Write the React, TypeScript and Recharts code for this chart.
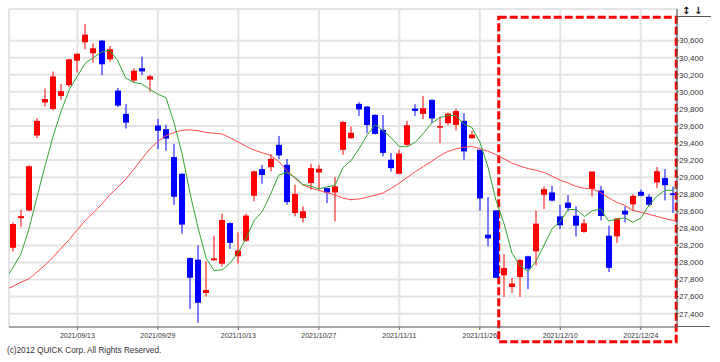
import React from 'react';
import { ComposedChart, Bar, Line, XAxis, YAxis, CartesianGrid, ReferenceArea } from 'recharts';

// Trading days shown (2021/09/01 .. 2021/12/30)
const dates = [
  '2021/09/01','2021/09/02','2021/09/03','2021/09/06','2021/09/07','2021/09/08','2021/09/09','2021/09/10',
  '2021/09/13','2021/09/14','2021/09/15','2021/09/16','2021/09/17','2021/09/21','2021/09/22','2021/09/24',
  '2021/09/27','2021/09/28','2021/09/29','2021/09/30','2021/10/01','2021/10/04','2021/10/05','2021/10/06',
  '2021/10/07','2021/10/08','2021/10/11','2021/10/12','2021/10/13','2021/10/14','2021/10/15','2021/10/18',
  '2021/10/19','2021/10/20','2021/10/21','2021/10/22','2021/10/25','2021/10/26','2021/10/27','2021/10/28',
  '2021/10/29','2021/11/01','2021/11/02','2021/11/04','2021/11/05','2021/11/08','2021/11/09','2021/11/10',
  '2021/11/11','2021/11/12','2021/11/15','2021/11/16','2021/11/17','2021/11/18','2021/11/19','2021/11/22',
  '2021/11/24','2021/11/25','2021/11/26','2021/11/29','2021/11/30','2021/12/01','2021/12/02','2021/12/03',
  '2021/12/06','2021/12/07','2021/12/08','2021/12/09','2021/12/10','2021/12/13','2021/12/14','2021/12/15',
  '2021/12/16','2021/12/17','2021/12/20','2021/12/21','2021/12/22','2021/12/23','2021/12/24','2021/12/27',
  '2021/12/28','2021/12/29','2021/12/30',
];

const opens = [
  28173,28520,28610,29488,29875,29800,29952,30078,30366,30581,30452,30600,30382,30015,29742,30132,
  30277,30144,29605,29562,29235,29040,28052,28033,27643,28026,27986,28462,28073,28255,28782,29094,
  29118,29379,29145,28580,28521,28931,29055,28872,28821,29321,29457,29859,29828,29730,29555,29204,
  29040,29379,29805,29742,29906,29594,29633,29613,29660,29457,29321,28326,28610,27850,27713,27830,
  28073,28131,28794,28821,28540,28702,28548,28357,28864,28844,28314,28306,28607,28681,28829,28770,
  28938,28989,28810,
];
const highs = [
  28470,28618,29140,29691,30038,30238,30093,30381,30447,30795,30569,30608,30538,30046,29859,30277,
  30413,30198,29680,29613,29387,29045,28060,28201,28014,28315,28572,28470,28353,28572,29075,29145,
  29270,29484,29212,28911,28657,29157,29145,28880,29001,29660,29594,29879,29830,29735,29730,29282,
  29321,29660,29855,29952,29910,29711,29758,29800,29750,29543,29325,28767,28615,28100,27818,28040,
  28080,28607,28891,28899,28677,28790,28657,28509,29070,28899,28431,28521,28657,28798,28856,28798,
  29118,29094,28890,
];
const lows = [
  28130,28415,28600,29457,29828,29781,29906,30054,30226,30499,30343,30195,30355,29820,29570,30109,
  30198,30003,29329,29309,28673,28337,27455,27292,27604,28020,27955,28158,27987,28240,28716,28923,
  29067,29212,28677,28541,28470,28853,28853,28696,28482,29262,29450,29719,29516,29500,29243,29067,
  29035,29360,29719,29680,29633,29399,29613,29547,29204,29450,28607,28190,27818,27596,27643,27596,
  27689,27963,28626,28715,28392,28599,28306,28350,28774,28493,27889,28228,28470,28603,28775,28657,
  28872,28727,28580,
];
const closes = [
  28451,28543,29128,29660,29916,30181,30008,30381,30447,30670,30511,30323,30500,29839,29639,30248,
  30240,30183,29544,29452,28771,28444,27822,27528,27678,28048,28498,28230,28140,28550,29068,29025,
  29215,29255,28708,28804,28600,29106,29098,28820,28892,29647,29520,29794,29611,29507,29285,29106,
  29277,29609,29776,29808,29688,29598,29745,29774,29302,29499,28751,28283,27821,27935,27753,28029,
  27927,28455,28860,28725,28437,28640,28432,28459,29066,28545,27937,28517,28562,28780,28782,28676,
  29069,28906,28791,
];

// Moving averages as drawn: from the session before the first candle to the session after the last one
const ma5 = [
  27797,
  27942,28103,28400,28774,29140,29486,29779,30029,30187,30337,30403,30466,30490,30369,30162,30110,
  30093,30030,29971,29933,29638,29279,28807,28403,28049,27904,27915,27996,28119,28293,28497,28603,
  28800,29023,29054,29001,28916,28895,28863,28886,28903,29113,29195,29335,29493,29616,29543,29461,
  29357,29357,29411,29515,29632,29696,29723,29723,29621,29584,29414,29122,28731,28458,28109,27964,
  27893,28020,28205,28399,28481,28623,28619,28539,28607,28628,28488,28505,28525,28472,28519,28667,
  28777,28846,28845,
  28949,
];
const ma25 = [
  27680,
  27720,27770,27810,27890,27970,28065,28170,28270,28384,28495,28585,28680,28790,28880,28975,29090,
  29215,29330,29420,29485,29525,29550,29555,29545,29525,29515,29505,29460,29410,29360,29315,29285,
  29255,29185,29080,28990,28910,28872,28845,28820,28790,28755,28735,28745,28765,28790,28815,28870,
  28930,29000,29065,29125,29185,29250,29300,29330,29350,29360,29335,29305,29265,29215,29165,29130,
  29100,29080,29055,29010,28965,28930,28890,28870,28860,28820,28760,28705,28670,28610,28590,28565,
  28540,28515,28493,
  28525,
];

const xTickIndexes = [8, 18, 28, 38, 48, 58, 68, 78];
const yTicks = [27400, 27600, 27800, 28000, 28200, 28400, 28600, 28800, 29000, 29200, 29400, 29600, 29800, 30000, 30200, 30400, 30600];
const copyright = '(c)2012 QUICK Corp. All Rights Reserved.';

const data = ma5.map((_, k) => {
  const i = k - 1;
  const row: any = { idx: i, ma5: ma5[k], ma25: ma25[k] };
  if (i >= 0 && i < dates.length) {
    row.open = opens[i];
    row.high = highs[i];
    row.low = lows[i];
    row.close = closes[i];
    row.range = [lows[i], highs[i]];
  }
  return row;
});

const UP = '#ff0000';
const DOWN = '#0000ff';

const Candle = (props: any) => {
  const { x, y, width, height, payload } = props;
  if (!payload || payload.open == null || !isFinite(y) || !isFinite(height)) return <g />;
  const top = Math.min(y, y + height);
  const bot = Math.max(y, y + height);
  const { open, close, high, low } = payload;
  const k = (bot - top) / (high - low);
  const yv = (v: number) => top + (high - v) * k;
  const up = close >= open;
  const cx = x + width / 2;
  const bw = 6;
  const x0 = Math.round(cx - bw / 2);
  const bTop = yv(Math.max(open, close));
  const bBot = yv(Math.min(open, close));
  const color = up ? UP : DOWN;
  return (
    <g>
      <line x1={x0 + bw / 2} x2={x0 + bw / 2} y1={top} y2={bot} stroke={color} strokeWidth={1} />
      <rect x={x0} y={bTop} width={bw} height={Math.max(bBot - bTop, 1.5)} fill={color} />
    </g>
  );
};

const fmtY = (v: number) => v.toLocaleString('en-US');
const fmtX = (v: number) => dates[v] ?? '';

export default function App() {
  return (
    <div
      style={{
        position: 'absolute',
        left: 0,
        top: 0,
        width: 720,
        height: 362,
        background: '#fff',
        fontFamily: '"Liberation Sans", Arial, sans-serif',
        overflow: 'hidden',
      }}
    >
      <ComposedChart width={720} height={362} data={data} margin={{ top: 9, right: 0, bottom: 15, left: 9 }}>
        <CartesianGrid stroke="#e4e4e4" strokeWidth={2} />
        <XAxis
          dataKey="idx"
          type="number"
          scale="linear"
          domain={[-0.5, 82.5]}
          allowDataOverflow
          ticks={xTickIndexes}
          interval={0}
          tickFormatter={fmtX}
          height={20}
          tickSize={3}
          tickMargin={3}
          stroke="#666"
          tick={{ fontSize: 7, fill: '#333' }}
        />
        <YAxis
          orientation="right"
          type="number"
          domain={[27244, 30971]}
          allowDataOverflow
          ticks={yTicks}
          interval={0}
          tickFormatter={fmtY}
          width={43}
          tickSize={2}
          tickMargin={0}
          stroke="#555"
          tick={{ fontSize: 8, fill: '#333', textAnchor: 'start' }}
        />
        <Bar dataKey="range" barSize={6} shape={<Candle />} isAnimationActive={false} />
        <Line type="linear" dataKey="ma25" stroke="#ff4a4a" strokeWidth={1} dot={false} activeDot={false} isAnimationActive={false} />
        <Line type="linear" dataKey="ma5" stroke="#33a533" strokeWidth={1} dot={false} activeDot={false} isAnimationActive={false} />
        <ReferenceArea
          x1={60.35}
          x2={82.4}
          y1={27070}
          y2={30874}
          ifOverflow="visible"
          fill="none"
          stroke="#ff0000"
          strokeWidth={3}
          strokeDasharray="8 3"
        />
      </ComposedChart>
      <div style={{ position: 'absolute', left: 677, top: 16, width: 34, height: 0, borderTop: '1px solid #555' }} />
      <div style={{ position: 'absolute', left: 677, top: 326, width: 33, height: 0, borderTop: '1px solid #666' }} />
      <div style={{ position: 'absolute', left: 682, top: 5, fontSize: 10, lineHeight: '12px', color: '#111', fontFamily: '"DejaVu Sans", sans-serif', fontWeight: 'bold' }}>↕</div>
      <div style={{ position: 'absolute', left: 694, top: 5, fontSize: 10, lineHeight: '12px', color: '#111', fontFamily: '"DejaVu Sans", sans-serif', fontWeight: 'bold' }}>↓</div>
      <div style={{ position: 'absolute', left: 7, top: 346, fontSize: 8.2, lineHeight: '10px', color: '#333', whiteSpace: 'nowrap' }}>
        {copyright}
      </div>
    </div>
  );
}
